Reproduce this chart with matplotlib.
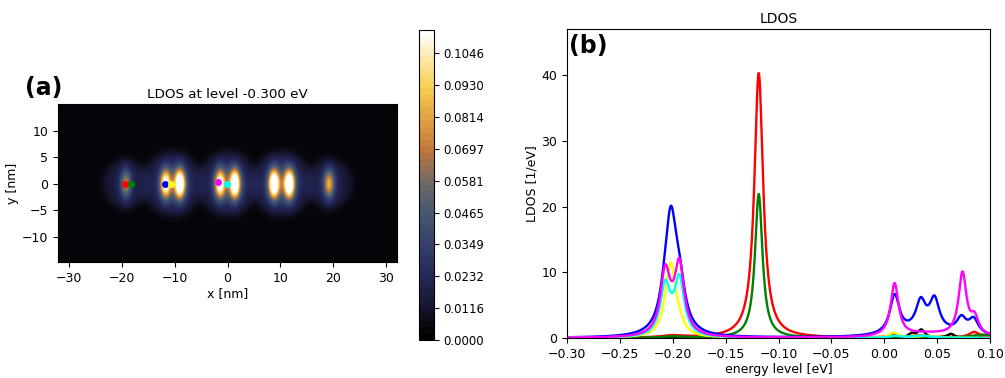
import numpy as np
import matplotlib
matplotlib.use("Agg")
import matplotlib.pyplot as plt
from matplotlib.colors import LinearSegmentedColormap

# ---------------- Panel (a) data: LDOS map at -0.300 eV ----------------
lobe_x = [-19.3, -11.8, -9.1, -1.5, 1.3, 8.7, 11.6, 19.1]
lobe_y = [0.0, 0.0, 0.0, 0.0, 0.0, 0.0, 0.0, 0.0]
lobe_amp = [0.046, 0.088, 0.112, 0.090, 0.112, 0.112, 0.112, 0.058]
halo_x = [-19.3, -10.5, -0.1, 10.2, 19.2]
halo_r = [4.6, 6.0, 6.0, 6.0, 4.6]
halo_amp = [0.0065, 0.0065, 0.0065, 0.0065, 0.0065]
background_level = 0.0028

dot_x = [-19.4, -18.2, -11.8, -10.7, -1.75, -0.1]
dot_y = [0.05, 0.05, 0.05, 0.05, 0.38, 0.05]
dot_colors = ["red", "green", "blue", "yellow", "magenta", "cyan"]

cbar_ticks = [0.0000, 0.0116, 0.0232, 0.0349, 0.0465, 0.0581, 0.0697, 0.0814, 0.0930, 0.1046]
cbar_max = 0.1131

# ---------------- Panel (b) data: LDOS spectra (Lorentzian peaks) ----------------
red_pos = [-0.1187, -0.200, 0.009, 0.035, 0.085]
red_h = [40.3, 0.30, 0.45, 0.30, 0.90]
red_w = [0.0050, 0.012, 0.006, 0.008, 0.006]

green_pos = [-0.1187, -0.200, 0.020, 0.095]
green_h = [21.9, 0.20, 0.20, 0.50]
green_w = [0.0043, 0.012, 0.008, 0.015]

blue_pos = [-0.2072, -0.2017, -0.1937, 0.0098, 0.0345, 0.0475, 0.0730, 0.0845, 0.0400]
blue_h = [2.95, 16.0, 5.98, 5.85, 4.2, 4.6, 2.27, 2.27, 1.0]
blue_w = [0.0065, 0.0065, 0.0065, 0.0055, 0.0055, 0.0055, 0.0055, 0.0055, 0.030]

yellow_pos = [-0.2072, -0.2017, -0.1937, 0.009, 0.040]
yellow_h = [1.2, 10.5, 1.2, 0.8, 0.3]
yellow_w = [0.0055, 0.0055, 0.0055, 0.005, 0.010]

magenta_pos = [-0.2072, -0.2017, -0.1937, 0.0098, 0.0740, 0.0855, 0.0400]
magenta_h = [9.3, 0.7, 10.6, 8.0, 9.5, 2.5, 0.6]
magenta_w = [0.0055, 0.0055, 0.0055, 0.0045, 0.0045, 0.0045, 0.030]

cyan_pos = [-0.2072, -0.2017, -0.1937, 0.010, 0.035]
cyan_h = [7.4, 0.5, 8.5, 0.30, 0.35]
cyan_w = [0.0055, 0.0055, 0.0055, 0.006, 0.010]

black_pos = [0.026, 0.035, 0.063, 0.088]
black_h = [0.6, 1.2, 0.6, 0.4]
black_w = [0.004, 0.004, 0.004, 0.004]

orange_pos = [-0.200, 0.009, 0.030, 0.060, 0.090]
orange_h = [0.35, 0.5, 0.4, 0.3, 0.6]
orange_w = [0.012, 0.006, 0.006, 0.006, 0.006]

energy_min, energy_max = -0.30, 0.10


def lorentz_sum(E, pos, h, w):
    out = np.zeros_like(E)
    for p, a, g in zip(pos, h, w):
        out += a / (1.0 + ((E - p) / g) ** 2)
    return out


# ---------------- figure ----------------
W, H = 1005, 378
fig = plt.figure(figsize=(W / 100, H / 100), dpi=100)


def box(l, r, t, b):
    return [l / W, 1 - b / H, (r - l) / W, (b - t) / H]


ax_a = fig.add_axes(box(58, 397, 104, 262))
cax = fig.add_axes(box(419, 434, 30, 340))
ax_b = fig.add_axes(box(567, 990, 29, 338))

# colormap
cmap_nodes = [
    (0.00, "#000000"),
    (0.10, "#16162e"),
    (0.20, "#24275a"),
    (0.30, "#34406c"),
    (0.41, "#455a70"),
    (0.51, "#6f6a66"),
    (0.61, "#c0753c"),
    (0.72, "#e2a242"),
    (0.82, "#f8cf50"),
    (0.92, "#fde9ab"),
    (1.00, "#ffffff"),
]
cmap = LinearSegmentedColormap.from_list("ldos", cmap_nodes, N=48)

x_ext = (-32.1, 32.1)
y_ext = (-14.8, 15.1)
xx, yy = np.meshgrid(np.linspace(*x_ext, 700), np.linspace(*y_ext, 330))
field = np.full_like(xx, background_level)
for cx, r, a in zip(halo_x, halo_r, halo_amp):
    rr = np.hypot(xx - cx, yy)
    field += a / (1 + np.exp((rr - r) / 0.4)) * (1 + 0.8 * np.exp(-(rr / r) ** 2))
for cx, cy, a in zip(lobe_x, lobe_y, lobe_amp):
    dx, dy = xx - cx, yy - cy
    field += a * np.exp(-(dx ** 2 / (2 * 0.68 ** 2) + dy ** 2 / (2 * 1.85 ** 2)))
    field += 0.22 * a * np.exp(-(dx ** 2 / (2 * 1.6 ** 2) + dy ** 2 / (2 * 2.9 ** 2)))

im = ax_a.imshow(field, origin="lower", extent=(*x_ext, *y_ext), cmap=cmap,
                 vmin=0, vmax=cbar_max, aspect="auto", interpolation="bilinear")
for x, y, c in zip(dot_x, dot_y, dot_colors):
    ax_a.plot(x, y, "o", color=c, markersize=4)
ax_a.set_xlim(*x_ext)
ax_a.set_ylim(*y_ext)
ax_a.set_xticks([-30, -20, -10, 0, 10, 20, 30])
ax_a.set_yticks([-10, -5, 0, 5, 10])
ax_a.set_xlabel("x [nm]", fontsize=9, labelpad=2)
ax_a.set_ylabel("y [nm]", fontsize=9, labelpad=2)
ax_a.set_title("LDOS at level -0.300 eV", fontsize=9.7, pad=4)
ax_a.tick_params(labelsize=9)
fig.text(25 / W, 1 - 95 / H, "(a)", fontsize=17, fontweight="bold")

cb = fig.colorbar(im, cax=cax, ticks=cbar_ticks)
cb.ax.set_yticklabels([f"{t:.4f}" for t in cbar_ticks])
cb.ax.tick_params(labelsize=8.5)

# panel (b)
E = np.linspace(energy_min, energy_max, 1601)
series = [
    ("orange", orange_pos, orange_h, orange_w),
    ("black", black_pos, black_h, black_w),
    ("red", red_pos, red_h, red_w),
    ("green", green_pos, green_h, green_w),
    ("blue", blue_pos, blue_h, blue_w),
    ("yellow", yellow_pos, yellow_h, yellow_w),
    ("cyan", cyan_pos, cyan_h, cyan_w),
    ("magenta", magenta_pos, magenta_h, magenta_w),
]
for c, p, h, w in series:
    ax_b.plot(E, lorentz_sum(E, p, h, w), color=c, lw=1.7)
ax_b.set_xlim(energy_min, energy_max)
ax_b.set_ylim(0, 47)
ax_b.set_yticks([0, 10, 20, 30, 40])
ax_b.set_xticks([-0.30, -0.25, -0.20, -0.15, -0.10, -0.05, 0.00, 0.05, 0.10])
ax_b.set_xlabel("energy level [eV]", fontsize=9, labelpad=2)
ax_b.set_ylabel("LDOS [1/eV]", fontsize=9, labelpad=2)
ax_b.set_title("LDOS", fontsize=10, pad=4)
ax_b.tick_params(labelsize=9)
ax_b.text(0.005, 0.985, "(b)", transform=ax_b.transAxes, fontsize=17,
          fontweight="bold", va="top", ha="left")

fig.savefig("out.png", dpi=100)
